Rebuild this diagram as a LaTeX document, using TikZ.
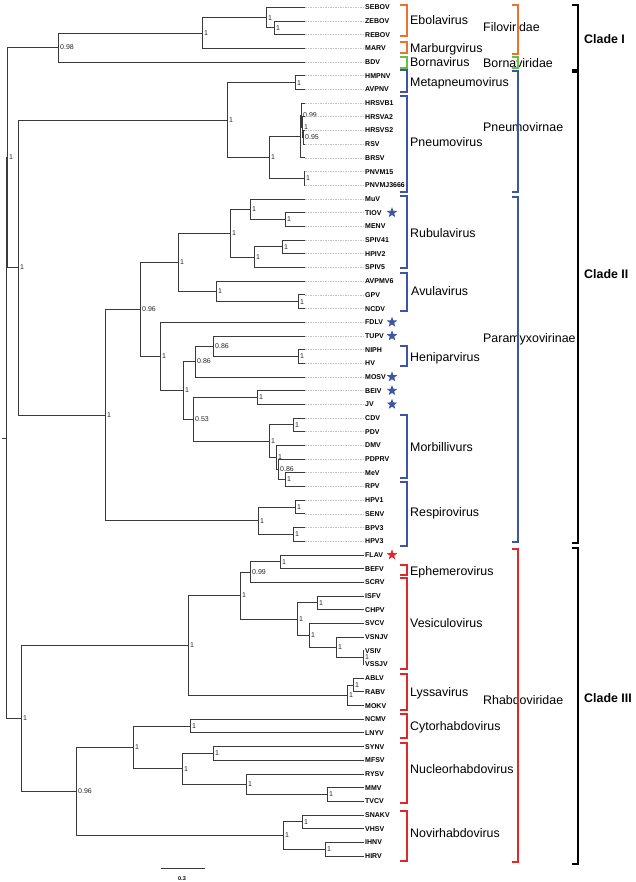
\documentclass[tikz,border=0pt]{standalone}
\usepackage{fontspec}
\setmainfont{Liberation Sans}
\usepackage{tikz}
\usetikzlibrary{shapes.geometric}
\definecolor{Branch}{HTML}{3A3A3A}
\definecolor{Guide}{HTML}{C4C4C4}
\definecolor{FiloOrange}{HTML}{E9732F}
\definecolor{BornaGreen}{HTML}{6ABD45}
\definecolor{ParaBlue}{HTML}{3D55A4}
\definecolor{RhabdoRed}{HTML}{E1262C}

\begin{document}
\begin{tikzpicture}[
  x=1pt, y=-1pt,
  branch/.style={draw=Branch, line width=0.8pt},
  guide/.style={draw=Guide, line width=0.6pt, dash pattern=on 1.5pt off 1pt},
  sup/.style={inner sep=1.5pt, font=\fontsize{7}{7}\selectfont, text=black!85},
  leaf/.style={anchor=west, inner sep=1pt, text height=5pt, text depth=0pt, font=\bfseries\fontsize{7}{7}\selectfont},
  taxon/.style={anchor=west, inner sep=0pt, text height=9pt, text depth=0pt, font=\fontsize{12.4}{13}\selectfont},
  clade/.style={taxon, font=\bfseries\fontsize{12.4}{13}\selectfont},
  bracket/.style={line width=1.8pt},
  newvirus/.style={star, star points=5, star point ratio=2.4, minimum size=11pt, inner sep=0pt},
  label distance=0.5pt
]
\fill[white] (0,0) rectangle (635,882);
\useasboundingbox (0,0) rectangle (635,882);

% leaves
\node[leaf] (SEBOV) at (364,7.3) {SEBOV};
\node[leaf] (ZEBOV) at (364,21.0) {ZEBOV};
\node[leaf] (REBOV) at (364,34.7) {REBOV};
\node[leaf] (MARV) at (364,48.4) {MARV};
\node[leaf] (BDV) at (364,62.1) {BDV};
\node[leaf] (HMPNV) at (364,75.8) {HMPNV};
\node[leaf] (AVPNV) at (364,89.4) {AVPNV};
\node[leaf] (HRSVB1) at (364,103.1) {HRSVB1};
\node[leaf] (HRSVA2) at (364,116.8) {HRSVA2};
\node[leaf] (HRSVS2) at (364,130.5) {HRSVS2};
\node[leaf] (RSV) at (364,144.2) {RSV};
\node[leaf] (BRSV) at (364,157.9) {BRSV};
\node[leaf] (PNVM15) at (364,171.6) {PNVM15};
\node[leaf] (PNVMJ3666) at (364,185.3) {PNVMJ3666};
\node[leaf] (MuV) at (364,199.0) {MuV};
\node[leaf] (TIOV) at (364,212.7) {TIOV};
\node[leaf] (MENV) at (364,226.3) {MENV};
\node[leaf] (SPIV41) at (364,240.0) {SPIV41};
\node[leaf] (HPIV2) at (364,253.7) {HPIV2};
\node[leaf] (SPIV5) at (364,267.4) {SPIV5};
\node[leaf] (AVPMV6) at (364,281.1) {AVPMV6};
\node[leaf] (GPV) at (364,294.8) {GPV};
\node[leaf] (NCDV) at (364,308.5) {NCDV};
\node[leaf] (FDLV) at (364,322.2) {FDLV};
\node[leaf] (TUPV) at (364,335.9) {TUPV};
\node[leaf] (NIPH) at (364,349.5) {NIPH};
\node[leaf] (HV) at (364,363.2) {HV};
\node[leaf] (MOSV) at (364,376.9) {MOSV};
\node[leaf] (BEIV) at (364,390.6) {BEIV};
\node[leaf] (JV) at (364,404.3) {JV};
\node[leaf] (CDV) at (364,418.0) {CDV};
\node[leaf] (PDV) at (364,431.7) {PDV};
\node[leaf] (DMV) at (364,445.4) {DMV};
\node[leaf] (PDPRV) at (364,459.1) {PDPRV};
\node[leaf] (MeV) at (364,472.7) {MeV};
\node[leaf] (RPV) at (364,486.4) {RPV};
\node[leaf] (HPV1) at (364,500.1) {HPV1};
\node[leaf] (SENV) at (364,513.8) {SENV};
\node[leaf] (BPV3) at (364,527.5) {BPV3};
\node[leaf] (HPV3) at (364,541.2) {HPV3};
\node[leaf] (FLAV) at (364,554.9) {FLAV};
\node[leaf] (BEFV) at (364,568.6) {BEFV};
\node[leaf] (SCRV) at (364,582.3) {SCRV};
\node[leaf] (ISFV) at (364,595.9) {ISFV};
\node[leaf] (CHPV) at (364,609.6) {CHPV};
\node[leaf] (SVCV) at (364,623.3) {SVCV};
\node[leaf] (VSNJV) at (364,637.0) {VSNJV};
\node[leaf] (VSIV) at (364,650.7) {VSIV};
\node[leaf] (VSSJV) at (364,664.4) {VSSJV};
\node[leaf] (ABLV) at (364,678.1) {ABLV};
\node[leaf] (RABV) at (364,691.8) {RABV};
\node[leaf] (MOKV) at (364,705.5) {MOKV};
\node[leaf] (NCMV) at (364,719.1) {NCMV};
\node[leaf] (LNYV) at (364,732.8) {LNYV};
\node[leaf] (SYNV) at (364,746.5) {SYNV};
\node[leaf] (MFSV) at (364,760.2) {MFSV};
\node[leaf] (RYSV) at (364,773.9) {RYSV};
\node[leaf] (MMV) at (364,787.6) {MMV};
\node[leaf] (TVCV) at (364,801.3) {TVCV};
\node[leaf] (SNAKV) at (364,815.0) {SNAKV};
\node[leaf] (VHSV) at (364,828.7) {VHSV};
\node[leaf] (IHNV) at (364,842.3) {IHNV};
\node[leaf] (HIRV) at (364,856.0) {HIRV};

\coordinate (tipline) at (305,0);
\coordinate (starline) at (392,0);

% internal nodes with support values
\coordinate (rootend) at (2,438);
\coordinate (root) at (6,438);
\coordinate[label={[sup]right:1}] (nA) at (7,157.5);
\coordinate[label={[sup]right:0.98}] (nC1) at (58,47.5);
\coordinate[label={[sup]right:1}] (nFi) at (202,33.0);
\coordinate[label={[sup]right:1}] (nEb) at (266,17.6);
\coordinate[label={[sup]right:1}] (nEz) at (274,27.85);

\coordinate[label={[sup]right:1}] (nC2) at (18,267.5);
\coordinate[label={[sup]right:1}] (nPv) at (227,120.0);
\coordinate[label={[sup]right:1}] (nMp) at (295,82.6);
\coordinate[label={[sup]right:1}] (nPn) at (269,157.5);
\coordinate (nH) at (300,136.5);
\coordinate[label={[sup]right:0.99}] (nHa) at (301,115.0);
\coordinate[label={[sup]right:1}] (nHb) at (302,127.0);
\coordinate[label={[sup]right:0.95}] (nHc) at (303,137.3);
\coordinate[label={[sup]right:1}] (nPm) at (304,178.45);
\coordinate[label={[sup]right:1}] (nPa) at (105,415.0);
\coordinate[label={[sup]right:0.96}] (nPx) at (140,309.3);
\coordinate[label={[sup]right:1}] (nRA) at (178,262.3);
\coordinate[label={[sup]right:1}] (nRu) at (230,233.2);
\coordinate[label={[sup]right:1}] (nMu) at (250,209.25);
\coordinate[label={[sup]right:1}] (nTm) at (285,219.5);
\coordinate[label={[sup]right:1}] (nSh) at (254,257.1);
\coordinate[label={[sup]right:1}] (nSp) at (282,246.85);
\coordinate[label={[sup]right:1}] (nAv) at (216,291.4);
\coordinate[label={[sup]right:1}] (nGn) at (298,301.65);
\coordinate[label={[sup]right:1}] (nFd) at (160,356.3);
\coordinate[label={[sup]right:1}] (nHB) at (183,390.4);
\coordinate[label={[sup]right:0.86}] (nMo) at (195,361.5);
\coordinate[label={[sup]right:0.86}] (nTu) at (213,346.1);
\coordinate[label={[sup]right:1}] (nNH) at (298,356.35);
\coordinate[label={[sup]right:0.53}] (nBM) at (193,419.3);
\coordinate[label={[sup]right:1}] (nBJ) at (257,397.45);
\coordinate[label={[sup]right:1}] (nMb) at (269,441.1);
\coordinate[label={[sup]right:1}] (nCP) at (293,424.85);
\coordinate[label={[sup]right:1}] (nDm) at (276,457.35);
\coordinate[label={[sup]right:0.86}] (nPd) at (278,469.3);
\coordinate[label={[sup]right:1}] (nMR) at (285,479.55);
\coordinate[label={[sup]right:1}] (nRe) at (258,520.65);
\coordinate[label={[sup]right:1}] (nHS) at (295,506.95);
\coordinate[label={[sup]right:1}] (nBH) at (293,534.35);

\coordinate[label={[sup]right:1}] (nC3) at (21,718.4);
\coordinate[label={[sup]right:1}] (nRh1) at (188,645.35);
\coordinate[label={[sup]right:1}] (nEV) at (240,595.5);
\coordinate[label={[sup]right:0.99}] (nEp) at (250,572.0);
\coordinate[label={[sup]right:1}] (nFB) at (280,561.75);
\coordinate[label={[sup]right:1}] (nVe) at (297,619.0);
\coordinate[label={[sup]right:1}] (nIC) at (317,602.75);
\coordinate[label={[sup]right:1}] (nSv) at (309,635.3);
\coordinate[label={[sup]right:1}] (nVn) at (336,647.3);
\coordinate[label={[sup]right:1}] (nVV) at (363,657.55);
\coordinate[label={[sup]right:1}] (nLy) at (347,695.2);
\coordinate[label={[sup]right:1}] (nAR) at (353,684.95);
\coordinate[label={[sup]right:0.96}] (nRh2) at (76,791.45);
\coordinate[label={[sup]right:1}] (nCN) at (133,747.4);
\coordinate[label={[sup]right:1}] (nCy) at (190,725.95);
\coordinate[label={[sup]right:1}] (nNu) at (182,768.8);
\coordinate[label={[sup]right:1}] (nSM) at (213,753.35);
\coordinate[label={[sup]right:1}] (nRy) at (246,784.2);
\coordinate[label={[sup]right:1}] (nMT) at (327,794.45);
\coordinate[label={[sup]right:1}] (nNo) at (283,835.5);
\coordinate[label={[sup]right:1}] (nSV) at (302,821.85);
\coordinate[label={[sup]right:1}] (nIH) at (325,849.15);

% branches
\draw[branch] (rootend) -- (root) (root) |- (nA) (root) |- (nC3);
\draw[branch] (nA) |- (nC1) (nA) |- (nC2);
\draw[branch] (nC1) |- (nFi) (nC1) |- (tipline |- BDV) edge[guide] (BDV.west);
\draw[branch] (nFi) |- (nEb) (nFi) |- (tipline |- MARV) edge[guide] (MARV.west);
\draw[branch] (nEb) |- (tipline |- SEBOV) edge[guide] (SEBOV.west) (nEb) |- (nEz);
\draw[branch] (nEz) |- (tipline |- ZEBOV) edge[guide] (ZEBOV.west) (nEz) |- (tipline |- REBOV) edge[guide] (REBOV.west);

\draw[branch] (nC2) |- (nPv) (nC2) |- (nPa);
\draw[branch] (nPv) |- (nMp) (nPv) |- (nPn);
\draw[branch] (nMp) |- (tipline |- HMPNV) edge[guide] (HMPNV.west) (nMp) |- (tipline |- AVPNV) edge[guide] (AVPNV.west);
\draw[branch] (nPn) |- (nH) (nPn) |- (nPm);
\draw[branch] (nH) |- (nHa) (nH) |- (tipline |- BRSV) edge[guide] (BRSV.west);
\draw[branch] (nHa) |- (tipline |- HRSVB1) edge[guide] (HRSVB1.west) (nHa) |- (nHb);
\draw[branch] (nHb) |- (tipline |- HRSVA2) edge[guide] (HRSVA2.west) (nHb) |- (nHc);
\draw[branch] (nHc) |- (tipline |- HRSVS2) edge[guide] (HRSVS2.west) (nHc) |- (tipline |- RSV) edge[guide] (RSV.west);
\draw[branch] (nPm) |- (tipline |- PNVM15) edge[guide] (PNVM15.west) (nPm) |- (tipline |- PNVMJ3666) edge[guide] (PNVMJ3666.west);
\draw[branch] (nPa) |- (nPx) (nPa) |- (nRe);
\draw[branch] (nPx) |- (nRA) (nPx) |- (nFd);
\draw[branch] (nRA) |- (nRu) (nRA) |- (nAv);
\draw[branch] (nRu) |- (nMu) (nRu) |- (nSh);
\draw[branch] (nMu) |- (tipline |- MuV) edge[guide] (MuV.west) (nMu) |- (nTm);
\draw[branch] (nTm) |- (tipline |- TIOV) edge[guide] (TIOV.west) (nTm) |- (tipline |- MENV) edge[guide] (MENV.west);
\draw[branch] (nSh) |- (nSp) (nSh) |- (tipline |- SPIV5) edge[guide] (SPIV5.west);
\draw[branch] (nSp) |- (tipline |- SPIV41) edge[guide] (SPIV41.west) (nSp) |- (tipline |- HPIV2) edge[guide] (HPIV2.west);
\draw[branch] (nAv) |- (tipline |- AVPMV6) edge[guide] (AVPMV6.west) (nAv) |- (nGn);
\draw[branch] (nGn) |- (tipline |- GPV) edge[guide] (GPV.west) (nGn) |- (tipline |- NCDV) edge[guide] (NCDV.west);
\draw[branch] (nFd) |- (tipline |- FDLV) edge[guide] (FDLV.west) (nFd) |- (nHB);
\draw[branch] (nHB) |- (nMo) (nHB) |- (nBM);
\draw[branch] (nMo) |- (nTu) (nMo) |- (tipline |- MOSV) edge[guide] (MOSV.west);
\draw[branch] (nTu) |- (tipline |- TUPV) edge[guide] (TUPV.west) (nTu) |- (nNH);
\draw[branch] (nNH) |- (tipline |- NIPH) edge[guide] (NIPH.west) (nNH) |- (tipline |- HV) edge[guide] (HV.west);
\draw[branch] (nBM) |- (nBJ) (nBM) |- (nMb);
\draw[branch] (nBJ) |- (tipline |- BEIV) edge[guide] (BEIV.west) (nBJ) |- (tipline |- JV) edge[guide] (JV.west);
\draw[branch] (nMb) |- (nCP) (nMb) |- (nDm);
\draw[branch] (nCP) |- (tipline |- CDV) edge[guide] (CDV.west) (nCP) |- (tipline |- PDV) edge[guide] (PDV.west);
\draw[branch] (nDm) |- (tipline |- DMV) edge[guide] (DMV.west) (nDm) |- (nPd);
\draw[branch] (nPd) |- (tipline |- PDPRV) edge[guide] (PDPRV.west) (nPd) |- (nMR);
\draw[branch] (nMR) |- (tipline |- MeV) edge[guide] (MeV.west) (nMR) |- (tipline |- RPV) edge[guide] (RPV.west);
\draw[branch] (nRe) |- (nHS) (nRe) |- (nBH);
\draw[branch] (nHS) |- (tipline |- HPV1) edge[guide] (HPV1.west) (nHS) |- (tipline |- SENV) edge[guide] (SENV.west);
\draw[branch] (nBH) |- (tipline |- BPV3) edge[guide] (BPV3.west) (nBH) |- (tipline |- HPV3) edge[guide] (HPV3.west);

\draw[branch] (nC3) |- (nRh1) (nC3) |- (nRh2);
\draw[branch] (nRh1) |- (nEV) (nRh1) |- (nLy);
\draw[branch] (nEV) |- (nEp) (nEV) |- (nVe);
\draw[branch] (nEp) |- (nFB) (nEp) |- (SCRV.west);
\draw[branch] (nFB) |- (FLAV.west) (nFB) |- (BEFV.west);
\draw[branch] (nVe) |- (nIC) (nVe) |- (nSv);
\draw[branch] (nIC) |- (ISFV.west) (nIC) |- (CHPV.west);
\draw[branch] (nSv) |- (SVCV.west) (nSv) |- (nVn);
\draw[branch] (nVn) |- (VSNJV.west) (nVn) |- (nVV);
\draw[branch] (nVV) |- (VSIV.west) (nVV) |- (VSSJV.west);
\draw[branch] (nLy) |- (nAR) (nLy) |- (MOKV.west);
\draw[branch] (nAR) |- (ABLV.west) (nAR) |- (RABV.west);
\draw[branch] (nRh2) |- (nCN) (nRh2) |- (nNo);
\draw[branch] (nCN) |- (nCy) (nCN) |- (nNu);
\draw[branch] (nCy) |- (NCMV.west) (nCy) |- (LNYV.west);
\draw[branch] (nNu) |- (nSM) (nNu) |- (nRy);
\draw[branch] (nSM) |- (SYNV.west) (nSM) |- (MFSV.west);
\draw[branch] (nRy) |- (RYSV.west) (nRy) |- (nMT);
\draw[branch] (nMT) |- (MMV.west) (nMT) |- (TVCV.west);
\draw[branch] (nNo) |- (nSV) (nNo) |- (nIH);
\draw[branch] (nSV) |- (SNAKV.west) (nSV) |- (VHSV.west);
\draw[branch] (nIH) |- (IHNV.west) (nIH) |- (HIRV.west);

% new viruses
\node[newvirus, fill=ParaBlue] (sTIOV) at (starline |- TIOV) {};
\node[newvirus, fill=ParaBlue] (sFDLV) at (starline |- FDLV) {};
\node[newvirus, fill=ParaBlue] (sTUPV) at (starline |- TUPV) {};
\node[newvirus, fill=ParaBlue] (sMOSV) at (starline |- MOSV) {};
\node[newvirus, fill=ParaBlue] (sBEIV) at (starline |- BEIV) {};
\node[newvirus, fill=ParaBlue] (sJV) at (starline |- JV) {};
\node[newvirus, fill=RhabdoRed] (sFLAV) at (starline |- FLAV) {};

% scale bar
\coordinate (barl) at (161,868);
\coordinate (barr) at (205,868);
\draw[branch] (barl) -- (barr);
\node[font=\bfseries\fontsize{5.5}{6}\selectfont, inner sep=0pt] (barlab) at (182,879) {0.3};

% genus brackets
\draw[bracket, FiloOrange] (400,5) -| (407,36) -- (400,36);
\draw[bracket, FiloOrange] (400,42) -| (407,53) -- (400,53);
\draw[bracket, BornaGreen] (400,57) -| (407,68) -- (400,68);
\draw[bracket, ParaBlue] (400,70) -| (407,92) -- (400,92);
\draw[bracket, ParaBlue] (400,96) -| (407,192) -- (400,192);
\draw[bracket, ParaBlue] (400,196) -| (407,268) -- (400,268);
\draw[bracket, ParaBlue] (400,273) -| (407,311) -- (400,311);
\draw[bracket, ParaBlue] (400,346) -| (407,366) -- (400,366);
\draw[bracket, ParaBlue] (400,415) -| (407,478) -- (400,478);
\draw[bracket, ParaBlue] (400,482) -| (407,546) -- (400,546);
\draw[bracket, RhabdoRed] (400,565) -| (407,575) -- (400,575);
\draw[bracket, RhabdoRed] (400,578) -| (407,669) -- (400,669);
\draw[bracket, RhabdoRed] (400,674) -| (407,710) -- (400,710);
\draw[bracket, RhabdoRed] (400,714) -| (407,738) -- (400,738);
\draw[bracket, RhabdoRed] (400,743) -| (407,803) -- (400,803);
\draw[bracket, RhabdoRed] (400,811) -| (407,861) -- (400,861);

\node[taxon] (ebola) at (410,20) {Ebolavirus};
\node[taxon] (marburg) at (410,48) {Marburgvirus};
\node[taxon] (borna) at (410,62) {Bornavirus};
\node[taxon] (metapneumo) at (410,82) {Metapneumovirus};
\node[taxon] (pneumo) at (410,142) {Pneumovirus};
\node[taxon] (rubula) at (410,233) {Rubulavirus};
\node[taxon] (avula) at (411,291) {Avulavirus};
\node[taxon] (henipa) at (410,357) {Heniparvirus};
\node[taxon] (morbilli) at (410,447) {Morbillivurs};
\node[taxon] (respiro) at (410,512) {Respirovirus};
\node[taxon] (ephemero) at (410,571) {Ephemerovirus};
\node[taxon] (vesiculo) at (410,623) {Vesiculovirus};
\node[taxon] (lyssa) at (410,692) {Lyssavirus};
\node[taxon] (cytorhabdo) at (410,726) {Cytorhabdovirus};
\node[taxon] (nucleorhabdo) at (410,769) {Nucleorhabdovirus};
\node[taxon] (novirhabdo) at (410,833) {Novirhabdovirus};

% families
\node[taxon] (filo) at (483,27) {Filoviridae};
\node[taxon] (bornafam) at (483,63) {Bornaviridae};
\node[taxon] (pneumofam) at (483,127) {Pneumovirnae};
\node[taxon] (paramyxo) at (483,338) {Paramyxovirinae};
\node[taxon] (rhabdo) at (483,700) {Rhabdoviridae};

\draw[bracket, FiloOrange] (512,5) -| (518,54) -- (512,54);
\draw[bracket, BornaGreen] (512,57) -| (518,68) -- (512,68);
\draw[bracket, ParaBlue] (512,71) -| (518,192) -- (512,192);
\draw[bracket, ParaBlue] (512,197) -| (518,542) -- (512,542);
\draw[bracket, RhabdoRed] (512,549) -| (518,862) -- (512,862);

% clades
\draw[bracket] (572,5) -| (578,70) -- (572,70);
\draw[bracket] (572,72) -| (578,543) -- (572,543);
\draw[bracket] (572,548) -| (578,864) -- (572,864);
\node[clade] (cladeI) at (584,39) {Clade I};
\node[clade] (cladeII) at (584,274) {Clade II};
\node[clade] (cladeIII) at (584,698) {Clade III};
\end{tikzpicture}
\end{document}
